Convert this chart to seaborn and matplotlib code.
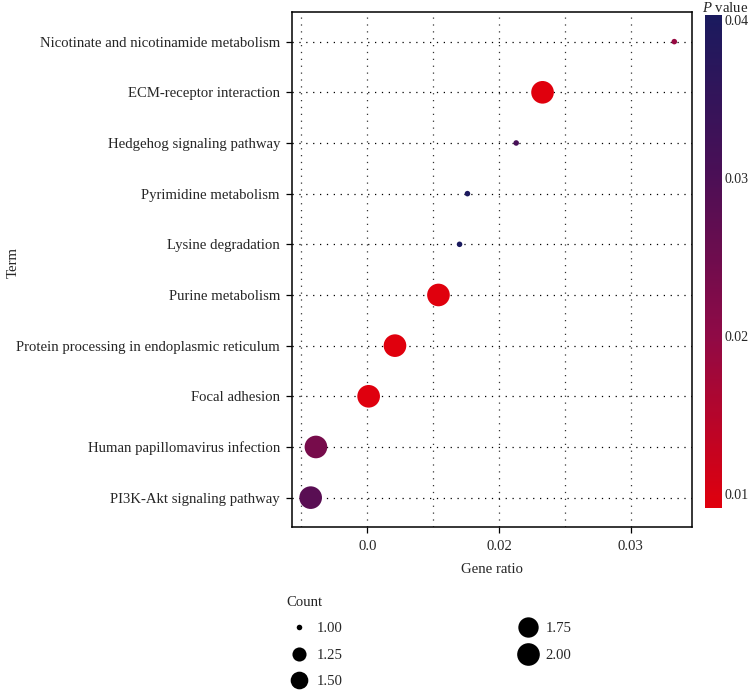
import matplotlib.pyplot as plt
import numpy as np
import pandas as pd
import seaborn as sns
from matplotlib.colors import LinearSegmentedColormap, Normalize
from matplotlib.cm import ScalarMappable
from matplotlib.lines import Line2D

# pathway terms, top to bottom as drawn
terms = [
    "Nicotinate and nicotinamide metabolism",
    "ECM-receptor interaction",
    "Hedgehog signaling pathway",
    "Pyrimidine metabolism",
    "Lysine degradation",
    "Purine metabolism",
    "Protein processing in endoplasmic reticulum",
    "Focal adhesion",
    "Human papillomavirus infection",
    "PI3K-Akt signaling pathway",
]
gene_ratio = [0.0333, 0.0233, 0.0213, 0.0176, 0.0170, 0.0154, 0.0121, 0.0101, 0.0061, 0.0057]
counts = [1, 2, 1, 1, 1, 2, 2, 2, 2, 2]
p_values = [0.0190, 0.0091, 0.0310, 0.0398, 0.0403, 0.0091, 0.0092, 0.0093, 0.0235, 0.0280]

x_ticks = [0.01, 0.02, 0.03]
x_tick_labels = ["0.0", "0.02", "0.03"]
cbar_ticks = [0.01, 0.02, 0.03, 0.04]
legend_counts = [1.00, 1.25, 1.50, 1.75, 2.00]

df = pd.DataFrame({"Term": terms, "GeneRatio": gene_ratio, "Count": counts, "P": p_values})

FS = 10.6


def count_to_diam(c, lo=1.0, hi=2.0, dmin=4.0, dmax=16.3):
    # ggplot-like area scale: diameter grows with sqrt of rescaled value
    t = (c - lo) / (hi - lo)
    return dmin + (dmax - dmin) * np.sqrt(t)


sns.set_theme(style="white")
plt.rcParams["font.family"] = ["Liberation Serif", "DejaVu Serif"]
plt.rcParams["mathtext.fontset"] = "custom"
plt.rcParams["mathtext.it"] = "Liberation Serif:italic"
plt.rcParams["mathtext.rm"] = "Liberation Serif"

cmap = LinearSegmentedColormap.from_list(
    "pv", [(0.0, "#e0000d"), (0.35, "#8f0a46"), (0.68, "#4a0f56"), (1.0, "#1a1a5e")]
)
vmin, vmax = min(p_values), max(p_values)

fig = plt.figure(figsize=(7.49, 6.91), dpi=100)
ax = fig.add_axes([0.3905, 0.2373, 0.5335, 0.7457])

ax.set_ylim(len(terms) - 1 + 0.58, -0.59)
ax.set_xlim(0.00432, 0.03465)
ax.set_yticks(range(len(terms)))
ax.set_yticklabels(terms)

# grid
for i in range(len(terms)):
    ax.axhline(i, color="black", lw=0.9, ls=(0, (1, 4.5)), zorder=0)
for xv in [0.005, 0.01, 0.015, 0.02, 0.025, 0.03]:
    ax.axvline(xv, color="#333333", lw=0.9, ls=(0, (1, 4.5)), zorder=0)

sizes = {c: count_to_diam(c) ** 2 for c in sorted(set(counts))}
sns.scatterplot(
    data=df, x="GeneRatio", y=np.arange(len(terms)), hue="P", size="Count",
    palette=cmap, hue_norm=(vmin, vmax), sizes=sizes, linewidth=0,
    legend=False, ax=ax, zorder=3,
)

ax.set_xticks(x_ticks)
ax.set_xticklabels(x_tick_labels)
ax.tick_params(axis="both", labelsize=FS, length=4, width=0.9, color="black",
               direction="out", pad=5, left=True, bottom=True)
for s in ax.spines.values():
    s.set_color("black")
    s.set_linewidth(1.1)
ax.set_xlabel("Gene ratio", fontsize=FS, labelpad=7.5)
ax.set_ylabel("Term", fontsize=FS)
ax.yaxis.set_label_coords(-0.683, 0.514)

# colour bar
cax = fig.add_axes([0.9413, 0.2648, 0.0227, 0.7132])
sm = ScalarMappable(norm=Normalize(vmin, vmax), cmap=cmap)
cbar = fig.colorbar(sm, cax=cax, ticks=cbar_ticks)
cbar.outline.set_visible(False)
cbar.ax.set_yticklabels([f"{t:.2f}" for t in cbar_ticks])
cbar.ax.tick_params(labelsize=10, color="white", direction="in", length=4,
                    width=0.9, left=True, right=True, pad=1.5)
fig.text(0.937, 0.988, "$P$ value", fontsize=FS, ha="left", va="center")

# size legend
handles = [
    Line2D([], [], ls="none", marker="o", color="black",
           markersize=count_to_diam(c), markeredgewidth=0)
    for c in legend_counts
]
fig.legend(handles, [f"{c:.2f}" for c in legend_counts], title="Count",
           loc="upper left", bbox_to_anchor=(0.383, 0.138), ncol=2,
           frameon=False, fontsize=FS, title_fontsize=FS, alignment="left",
           handlelength=1.6, handletextpad=0.4, columnspacing=11.8,
           labelspacing=0.9, borderpad=0, borderaxespad=0)

fig.savefig("out.png", dpi=100)
